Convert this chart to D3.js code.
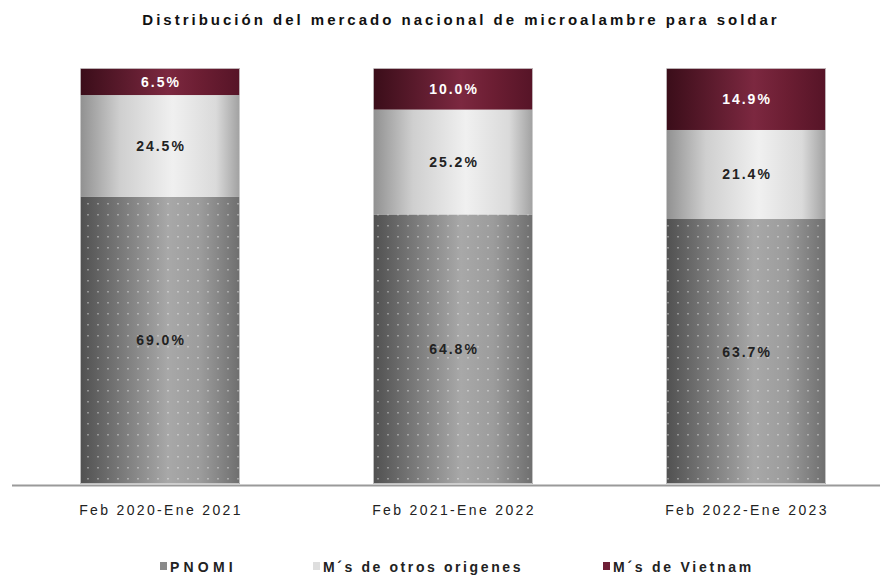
<!DOCTYPE html>
<html>
<head>
<meta charset="utf-8">
<script src="https://cdn.jsdelivr.net/npm/d3@7"></script>
<style>
  body { margin: 0; background: #fff; }
  svg { display: block; font-family: "Liberation Sans", Arial, sans-serif; }
</style>
</head>
<body>
<div id="chart"></div>
<script>
// periods on the x axis
var periods = ["Feb 2020-Ene 2021", "Feb 2021-Ene 2022", "Feb 2022-Ene 2023"];
// series (percent of national market)
var pnomi = [69.0, 64.8, 63.7];
var otros = [24.5, 25.2, 21.4];
var vietnam = [6.5, 10.0, 14.9];
var seriesNames = ["PNOMI", "M´s de otros origenes", "M´s de Vietnam"];

var w = 880, h = 576;

var svg = d3.select("#chart").append("svg")
  .attr("width", w)
  .attr("height", h);

var defs = svg.append("defs");

// horizontal shading for each series
function addGradient(id, stops) {
  var g = defs.append("linearGradient").attr("id", id)
    .attr("x1", "0%").attr("x2", "100%").attr("y1", "0%").attr("y2", "0%");
  stops.forEach(function(s) {
    g.append("stop").attr("offset", s[0]).attr("stop-color", s[1]);
  });
}
addGradient("g-pnomi", [["0%", "#505050"], ["55%", "#a8a8a8"], ["75%", "#9c9c9c"], ["100%", "#6e6e6e"]]);
addGradient("g-otros", [["0%", "#909090"], ["25%", "#cfcfcf"], ["58%", "#f0f0f0"], ["85%", "#dadada"], ["100%", "#a0a0a0"]]);
addGradient("g-viet", [["0%", "#3a0d19"], ["55%", "#7c2840"], ["75%", "#6c1e33"], ["100%", "#561427"]]);

// dotted texture on PNOMI
var pat = defs.append("pattern").attr("id", "dots")
  .attr("patternUnits", "userSpaceOnUse")
  .attr("width", 10).attr("height", 11)
  .attr("x", 3).attr("y", 1);
pat.append("rect").attr("x", 4).attr("y", 4).attr("width", 2).attr("height", 1.5)
  .attr("fill", "#fff").attr("opacity", 0.35);

var x = d3.scaleBand()
  .domain(periods)
  .range([13.5, 892.5])
  .paddingInner(0.454)
  .paddingOuter(0.227);

var y = d3.scaleLinear()
  .domain([0, 100])
  .range([484, 68]);

// build stacked table from arrays
var table = periods.map(function(p, i) {
  return { period: p, pnomi: pnomi[i], otros: otros[i], vietnam: vietnam[i] };
});
var keys = ["pnomi", "otros", "vietnam"];
var stack = d3.stack().keys(keys)(table);

var fills = { pnomi: "url(#g-pnomi)", otros: "url(#g-otros)", vietnam: "url(#g-viet)" };
var labelColor = { pnomi: "#222", otros: "#222", vietnam: "#fff" };

// title
svg.append("text")
  .attr("x", 461)
  .attr("y", 25)
  .attr("text-anchor", "middle")
  .attr("font-size", 15)
  .attr("font-weight", "bold")
  .attr("letter-spacing", 3)
  .attr("fill", "#111")
  .text("Distribución del mercado nacional de microalambre para soldar");

var layers = svg.selectAll("g.layer")
  .data(stack)
  .enter()
  .append("g")
  .attr("class", "layer");

layers.selectAll("rect.seg")
  .data(function(d) { return d.map(function(v) { v.key = d.key; return v; }); })
  .enter()
  .append("rect")
  .attr("class", "seg")
  .attr("x", function(d) { return x(d.data.period); })
  .attr("width", x.bandwidth())
  .attr("y", function(d) { return y(d[1]); })
  .attr("height", function(d) { return y(d[0]) - y(d[1]); })
  .attr("fill", function(d) { return fills[d.key]; });

// texture over PNOMI
svg.selectAll("rect.dots")
  .data(stack[0])
  .enter()
  .append("rect")
  .attr("class", "dots")
  .attr("x", function(d) { return x(d.data.period); })
  .attr("width", x.bandwidth())
  .attr("y", function(d) { return y(d[1]); })
  .attr("height", function(d) { return y(d[0]) - y(d[1]); })
  .attr("fill", "url(#dots)");

// faint outline on each bar
svg.selectAll("rect.outline")
  .data(table)
  .enter()
  .append("rect")
  .attr("class", "outline")
  .attr("x", function(d) { return x(d.period) + 0.5; })
  .attr("width", x.bandwidth() - 1)
  .attr("y", y(100) + 0.5)
  .attr("height", y(0) - y(100) - 1)
  .attr("fill", "none")
  .attr("stroke", "#d8d8d8")
  .attr("stroke-width", 0.8);

// value labels
layers.selectAll("text.val")
  .data(function(d) { return d; })
  .enter()
  .append("text")
  .attr("class", "val")
  .attr("x", function(d) { return x(d.data.period) + x.bandwidth() / 2 + 1; })
  .attr("y", function(d) { return (y(d[0]) + y(d[1])) / 2 + 5; })
  .attr("text-anchor", "middle")
  .attr("font-size", 14)
  .attr("font-weight", "bold")
  .attr("letter-spacing", 2)
  .attr("fill", function(d) { return labelColor[d.key]; })
  .text(function(d) { return (d[1] - d[0]).toFixed(1) + "%"; });

// baseline
svg.append("line")
  .attr("x1", 12).attr("x2", w)
  .attr("y1", 485.5).attr("y2", 485.5)
  .attr("stroke", "#9a9a9a")
  .attr("stroke-width", 2);

// category labels
var xAxis = d3.axisBottom(x).tickSize(0).tickPadding(0);
var ax = svg.append("g")
  .attr("transform", "translate(0,502)")
  .call(xAxis);
ax.select(".domain").remove();
ax.selectAll("text")
  .attr("dy", "0.9em")
  .attr("dx", 1)
  .attr("font-size", 14)
  .attr("letter-spacing", 2.35)
  .attr("font-family", "Liberation Sans, Arial, sans-serif")
  .attr("fill", "#222");

// legend
var legendItems = [
  { name: seriesNames[0], color: "#8a8a8a", x: 160, sp: 4.2 },
  { name: seriesNames[1], color: "#dedede", x: 313, sp: 2.6 },
  { name: seriesNames[2], color: "#6e1f36", x: 603, sp: 2.75 }
];
var lg = svg.selectAll("g.leg")
  .data(legendItems)
  .enter()
  .append("g")
  .attr("class", "leg")
  .attr("transform", function(d) { return "translate(" + d.x + ",572)"; });
lg.append("rect")
  .attr("x", 0).attr("y", -10)
  .attr("width", 7).attr("height", 8)
  .attr("fill", function(d) { return d.color; });
lg.append("text")
  .attr("x", 10)
  .attr("y", 0)
  .attr("font-size", 14)
  .attr("font-weight", "bold")
  .attr("letter-spacing", function(d) { return d.sp; })
  .attr("fill", "#222")
  .text(function(d) { return d.name; });
</script>
</body>
</html>
